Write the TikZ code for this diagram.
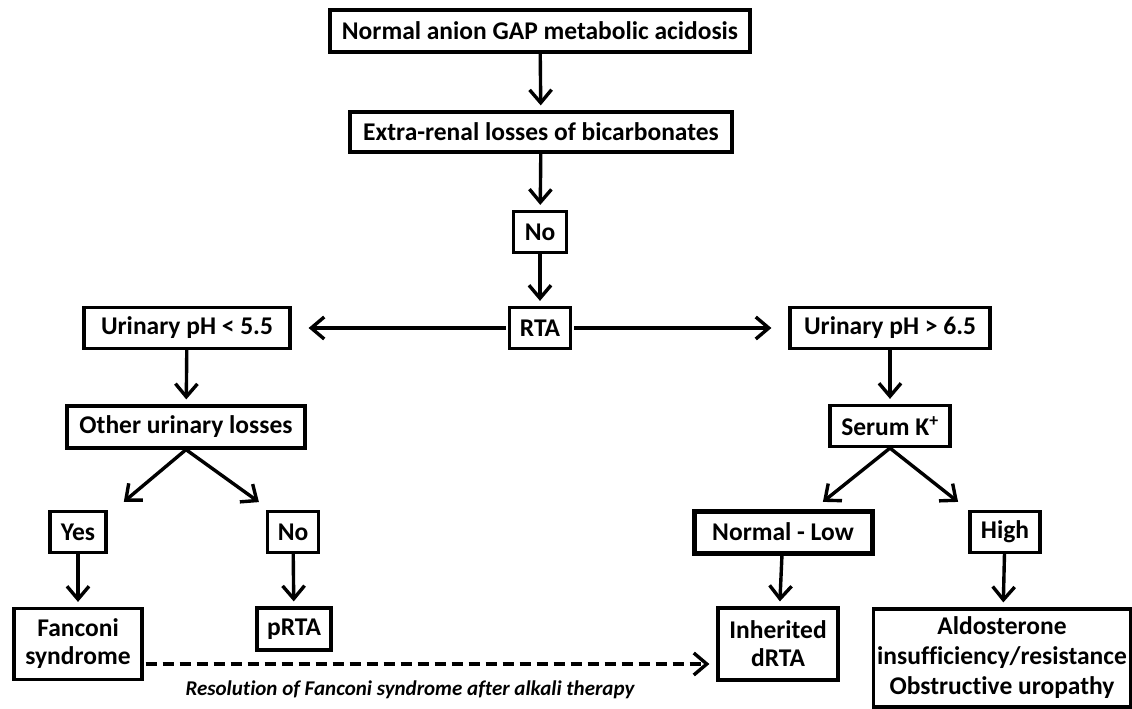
\documentclass[tikz,border=0pt]{standalone}
\usepackage{fontspec}
\setmainfont{Carlito}[Ligatures=NoCommon]
\usetikzlibrary{arrows.meta}
\begin{document}
\begin{tikzpicture}[x=1pt,y=-1pt,
  box/.style={draw=black,line width=3.2pt,fill=white,inner sep=0pt,align=center,
    font=\fontsize{25.5}{28}\selectfont\bfseries},
  arr/.style={line width=3.4pt,shorten >=5pt,-{Straight Barb[length=13pt,width=22pt,line width=3.4pt]}},
  harr/.style={arr,shorten >=17pt,shorten <=2pt},
  darr/.style={arr,dash pattern=on 11pt off 6pt}]
\useasboundingbox (0,0) rectangle (1132,709);
\node[box,minimum width=420,minimum height=42] (a) at (540,31) {Normal anion GAP metabolic acidosis};
\node[box,minimum width=382,minimum height=40] (b) at (541,132) {Extra-renal losses of bicarbonates};
\node[box,minimum width=53,minimum height=41] (no1) at (540,232) {No};
\node[box,minimum width=61,minimum height=41] (rta) at (540,328) {RTA};
\node[box,minimum width=206,minimum height=41] (ul) at (187,328) {Urinary pH < 5.5};
\node[box,minimum width=200,minimum height=41] (ur) at (890,328) {Urinary pH > 6.5};
\node[box,minimum width=238,minimum height=42] (oth) at (186,427) {Other urinary losses};
\node[box,minimum width=120,minimum height=41] (k) at (890,426) {Serum K\textsuperscript{+}};
\node[box,minimum width=56,minimum height=41] (yes) at (78,532) {Yes};
\node[box,minimum width=51,minimum height=41] (no2) at (293,532) {No};
\node[box,minimum width=128,minimum height=71] (fan) at (78,644) {Fanconi\\syndrome};
\node[box,minimum width=74,minimum height=42] (prta) at (294,629) {pRTA};
\node[box,line width=5pt,minimum width=178,minimum height=42] (nl) at (783,532) {Normal - Low};
\node[box,minimum width=70,minimum height=41] (hi) at (1005,532) {High};
\node[box,minimum width=120,minimum height=72] (inh) at (778,644) {Inherited\\dRTA};
\node[box,minimum width=257,minimum height=98,font=\fontsize{25.5}{30}\selectfont\bfseries] (ald) at (1002,658) {Aldosterone\\insufficiency/resistance\\Obstructive uropathy};
\coordinate (ty) at (120,505);
\coordinate (tn) at (263,505);
\coordinate (tl) at (819,505);
\coordinate (th) at (962,505);
\draw[arr] (a) -- (b);
\draw[arr] (b) -- (no1);
\draw[arr] (no1) -- (rta);
\draw[harr] (rta) -- (ul);
\draw[harr] (rta) -- (ur);
\draw[arr] (ul) -- (oth);
\draw[arr] (ur) -- (k);
\draw[arr] (oth.south) -- (ty);
\draw[arr] (oth.south) -- (tn);
\draw[arr] (k.south) -- (tl);
\draw[arr] (k.south) -- (th);
\draw[arr] (yes) -- (fan);
\draw[arr] (no2) -- (prta);
\draw[arr] (nl) -- (inh);
\draw[arr] (hi) -- (ald);
\draw[darr,shorten <=2pt,shorten >=7pt] (fan.east |- 0,664) -- (inh.west |- 0,664);
\node[inner sep=0pt,font=\fontsize{21}{24}\selectfont\bfseries\itshape] (lab) at (410,690) {Resolution of Fanconi syndrome after alkali therapy};
\end{tikzpicture}
\end{document}
